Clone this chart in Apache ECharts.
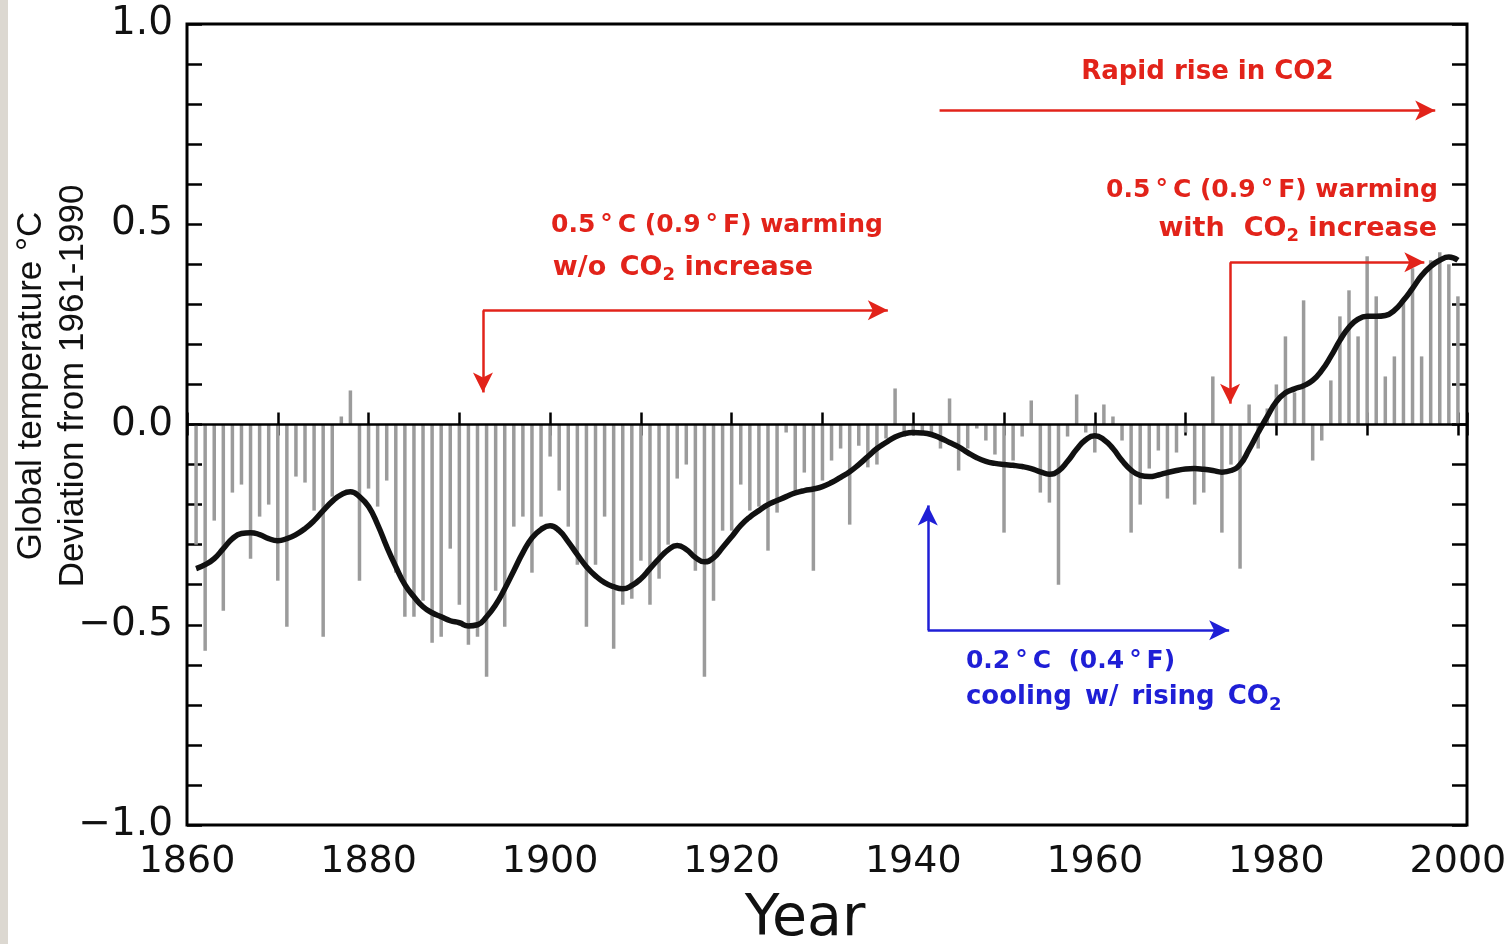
<!DOCTYPE html>
<html>
<head>
<meta charset="utf-8">
<script src="https://cdn.jsdelivr.net/npm/echarts@6/dist/echarts.min.js"></script>
<style>
html,body{margin:0;padding:0;background:#ffffff;}
#c{width:1511px;height:944px;}
</style>
</head>
<body>
<div id="c"></div>
<script>
// ---------------- data ----------------
const years = [
1861,1862,1863,1864,1865,1866,1867,1868,1869,1870,
1871,1872,1873,1874,1875,1876,1877,1878,1879,1880,
1881,1882,1883,1884,1885,1886,1887,1888,1889,1890,
1891,1892,1893,1894,1895,1896,1897,1898,1899,1900,
1901,1902,1903,1904,1905,1906,1907,1908,1909,1910,
1911,1912,1913,1914,1915,1916,1917,1918,1919,1920,
1921,1922,1923,1924,1925,1926,1927,1928,1929,1930,
1931,1932,1933,1934,1935,1936,1937,1938,1939,1940,
1941,1942,1943,1944,1945,1946,1947,1948,1949,1950,
1951,1952,1953,1954,1955,1956,1957,1958,1959,1960,
1961,1962,1963,1964,1965,1966,1967,1968,1969,1970,
1971,1972,1973,1974,1975,1976,1977,1978,1979,1980,
1981,1982,1983,1984,1985,1986,1987,1988,1989,1990,
1991,1992,1993,1994,1995,1996,1997,1998,1999,2000
];
// annual deviation (°C) from 1961-1990 mean
const anomalies = [
-0.30,-0.565,-0.24,-0.465,-0.17,-0.15,-0.335,-0.23,-0.20,-0.39,
-0.505,-0.13,-0.145,-0.215,-0.53,-0.18,0.02,0.085,-0.39,-0.16,
-0.205,-0.14,-0.37,-0.48,-0.48,-0.44,-0.545,-0.53,-0.31,-0.45,
-0.55,-0.53,-0.63,-0.415,-0.505,-0.255,-0.23,-0.37,-0.23,-0.08,
-0.165,-0.255,-0.35,-0.505,-0.35,-0.23,-0.56,-0.45,-0.435,-0.34,
-0.45,-0.385,-0.30,-0.135,-0.10,-0.365,-0.63,-0.44,-0.265,-0.265,
-0.15,-0.215,-0.205,-0.315,-0.22,-0.02,-0.165,-0.12,-0.365,-0.14,
-0.09,-0.06,-0.25,-0.053,-0.107,-0.10,-0.035,0.09,-0.03,-0.02,
-0.02,-0.03,-0.06,0.065,-0.115,-0.06,-0.01,-0.04,-0.075,-0.27,
-0.09,-0.03,0.06,-0.17,-0.195,-0.40,-0.03,0.075,-0.02,-0.07,
0.05,0.02,-0.04,-0.27,-0.20,-0.11,-0.065,-0.185,-0.07,-0.02,
-0.20,-0.17,0.12,-0.27,-0.10,-0.36,0.05,-0.06,0.04,0.10,
0.22,0.08,0.31,-0.09,-0.04,0.11,0.27,0.335,0.22,0.42,
0.32,0.12,0.17,0.31,0.39,0.17,0.41,0.43,0.40,0.32
];
// smoothed curve
const smoothed = [
-0.36,-0.35,-0.335,-0.31,-0.285,-0.272,-0.27,-0.275,-0.285,-0.29,
-0.285,-0.275,-0.26,-0.24,-0.215,-0.192,-0.175,-0.168,-0.18,-0.205,
-0.25,-0.305,-0.355,-0.40,-0.43,-0.455,-0.47,-0.48,-0.49,-0.495,
-0.503,-0.50,-0.48,-0.45,-0.41,-0.365,-0.32,-0.283,-0.262,-0.253,
-0.265,-0.293,-0.325,-0.355,-0.378,-0.395,-0.405,-0.41,-0.402,-0.385,
-0.36,-0.335,-0.313,-0.302,-0.312,-0.332,-0.343,-0.333,-0.307,-0.28,
-0.252,-0.231,-0.215,-0.20,-0.19,-0.18,-0.171,-0.165,-0.161,-0.155,
-0.145,-0.132,-0.118,-0.10,-0.08,-0.06,-0.045,-0.031,-0.023,-0.02,
-0.021,-0.025,-0.034,-0.045,-0.056,-0.07,-0.083,-0.092,-0.097,-0.10,
-0.102,-0.105,-0.11,-0.118,-0.124,-0.116,-0.092,-0.062,-0.038,-0.028,
-0.038,-0.06,-0.09,-0.114,-0.127,-0.13,-0.126,-0.12,-0.115,-0.111,
-0.11,-0.112,-0.115,-0.119,-0.115,-0.10,-0.062,-0.02,0.02,0.057,
0.079,0.089,0.097,0.11,0.135,0.17,0.21,0.243,0.263,0.27,
0.27,0.272,0.285,0.31,0.34,0.372,0.395,0.41,0.418,0.41
];
const xLabelYears = [1860,1880,1900,1920,1940,1960,1980,2000];
const yLabelValues = [-1.0,-0.5,0.0,0.5,1.0];
const yLabelTexts  = ['\u22121.0','\u22120.5','0.0','0.5','1.0'];

// ---------------- annotations (data coordinates) ----------------
const RED = '#e2231a';
const BLUE = '#1f1fd6';
const arrows = [
  {from:[1892.6,0.285], to:[1892.6,0.08],  color:RED},
  {from:[1892.6,0.285], to:[1937.2,0.285], color:RED},
  {from:[1942.9,0.784], to:[1997.5,0.784], color:RED},
  {from:[1974.9,0.405], to:[1974.9,0.052], color:RED},
  {from:[1974.9,0.405], to:[1996.3,0.405], color:RED},
  {from:[1941.6,-0.514],to:[1941.6,-0.202],color:BLUE},
  {from:[1941.6,-0.514],to:[1974.8,-0.514],color:BLUE}
];
const deg = '\u2009°\u2009';
const texts = [
  {at:[1972.4,0.879], pos:'inside', fmt:'{rn|Rapid rise in CO2}'},
  {at:[1900.1,0.497], pos:'right', fmt:'{r|0.5'+deg+'C (0.9'+deg+'F) warming}'},
  {at:[1900.3,0.392], pos:'right', fmt:'{r2|w/o\u2002CO}{rs|2}{r2| increase}'},
  {at:[1997.8,0.584], pos:'left',  fmt:'{r|0.5'+deg+'C (0.9'+deg+'F) warming}'},
  {at:[1997.7,0.489], pos:'left',  fmt:'{r2|with\u2002\u2009CO}{rs|2}{r2| increase}'},
  {at:[1945.8,-0.592],pos:'right', fmt:'{b|0.2'+deg+'C  (0.4'+deg+'F)}'},
  {at:[1945.8,-0.682],pos:'right', fmt:'{b2|cooling\u2002w/\u2002rising\u2002CO}{bs|2}'}
];
const FONT = 'DejaVu Sans';
const rich = {
  rn:{color:RED, fontFamily:FONT, fontWeight:'bold', fontSize:26, lineHeight:34},
  r: {color:RED, fontFamily:FONT, fontWeight:'bold', fontSize:25, lineHeight:34},
  r2:{color:RED, fontFamily:FONT, fontWeight:'bold', fontSize:27, lineHeight:34},
  rs:{color:RED, fontFamily:FONT, fontWeight:'bold', fontSize:18, lineHeight:10, verticalAlign:'bottom'},
  b: {color:BLUE, fontFamily:FONT, fontWeight:'bold', fontSize:25, lineHeight:34},
  b2:{color:BLUE, fontFamily:FONT, fontWeight:'bold', fontSize:26, lineHeight:34},
  bs:{color:BLUE, fontFamily:FONT, fontWeight:'bold', fontSize:18, lineHeight:10, verticalAlign:'bottom'}
};

const chart = echarts.init(document.getElementById('c'), null, {renderer:'canvas'});

const tickStyle = {color:'#000', width:2.5};
const xAxisBase = {
  type:'value', min:1860, max:2001, interval:10,
  axisLine:{show:false}, splitLine:{show:false}
};
const yAxisBase = {
  type:'value', min:-1, max:1, interval:0.1,
  axisLine:{show:false}, splitLine:{show:false}
};

chart.setOption({
  animation:false,
  backgroundColor:'#ffffff',
  grid:{left:187, right:44, top:24, bottom:119, show:true, borderColor:'#000', borderWidth:3, backgroundColor:'transparent'},
  xAxis:[
    Object.assign({}, xAxisBase, {
      position:'bottom',
      axisTick:{show:true, inside:true, length:12, lineStyle:tickStyle},
      axisLabel:{show:true, margin:18, fontFamily:FONT, fontSize:38, color:'#111',
        formatter:function(v){ return xLabelYears.indexOf(Math.round(v))>=0 && Math.abs(v-Math.round(v))<1e-6 ? String(Math.round(v)) : ''; }}
    }),
    Object.assign({}, xAxisBase, {
      position:'top',
      axisTick:{show:true, inside:true, length:11, lineStyle:tickStyle},
      axisLabel:{show:false}
    })
  ],
  yAxis:[
    Object.assign({}, yAxisBase, {
      position:'left',
      axisTick:{show:true, inside:true, length:15, lineStyle:tickStyle},
      axisLabel:{show:true, margin:14, fontFamily:FONT, fontSize:39, color:'#111',
        formatter:function(v){
          for (let i=0;i<yLabelValues.length;i++){ if (Math.abs(v-yLabelValues[i])<1e-6) return yLabelTexts[i]; }
          return '';
        }}
    }),
    Object.assign({}, yAxisBase, {
      position:'right',
      axisTick:{show:true, inside:true, length:15, lineStyle:tickStyle},
      axisLabel:{show:false}
    })
  ],
  graphic:[
    {type:'rect', left:0, top:0, shape:{x:0,y:0,width:8,height:944}, style:{fill:'#dcd8d1'}, silent:true},
    {type:'text', x:805, y:920, silent:true,
      style:{text:'Year', fill:'#111', font:'57px "DejaVu Sans"', align:'center', verticalAlign:'middle'}},
    {type:'text', x:31, y:386, rotation:Math.PI/2, silent:true,
      style:{text:'Global temperature °C', fill:'#111', font:'35px "Liberation Sans"', align:'center', verticalAlign:'middle'}},
    {type:'text', x:73, y:386, rotation:Math.PI/2, silent:true,
      style:{text:'Deviation from 1961-1990', fill:'#111', font:'35px "Liberation Sans"', align:'center', verticalAlign:'middle'}}
  ],
  series:[
    {
      type:'bar', xAxisIndex:0, yAxisIndex:0, silent:true,
      barWidth:3.5,
      itemStyle:{color:'#9b9b9b'},
      data: years.map(function(y,i){ return [y, anomalies[i]]; }),
      markLine:{silent:true, symbol:['none','none'], label:{show:false},
        lineStyle:{color:'#000', width:2.5, type:'solid'},
        data:[{yAxis:0}]}
    },
    {
      type:'line', xAxisIndex:0, yAxisIndex:0, silent:true,
      smooth:true, showSymbol:false, symbol:'none',
      lineStyle:{color:'#111', width:5.5},
      data: years.map(function(y,i){ return [y, smoothed[i]]; }),
      z:3,
      markLine:{silent:true, symbol:['none','arrow'], symbolSize:[15,20], label:{show:false},
        data: arrows.map(function(a){
          const ls = {color:a.color, width:2.5, type:'solid'};
          return [{coord:a.from, lineStyle:ls, itemStyle:{color:a.color}}, {coord:a.to, lineStyle:ls, itemStyle:{color:a.color}}];
        })},
      markPoint:{silent:true, symbol:'circle', symbolSize:0,
        data: texts.map(function(t){
          return {coord:t.at, itemStyle:{color:'transparent'},
            label:{show:true, position:t.pos, distance:0, formatter:t.fmt, rich:rich}};
        })}
    }
  ]
});
</script>
</body>
</html>
